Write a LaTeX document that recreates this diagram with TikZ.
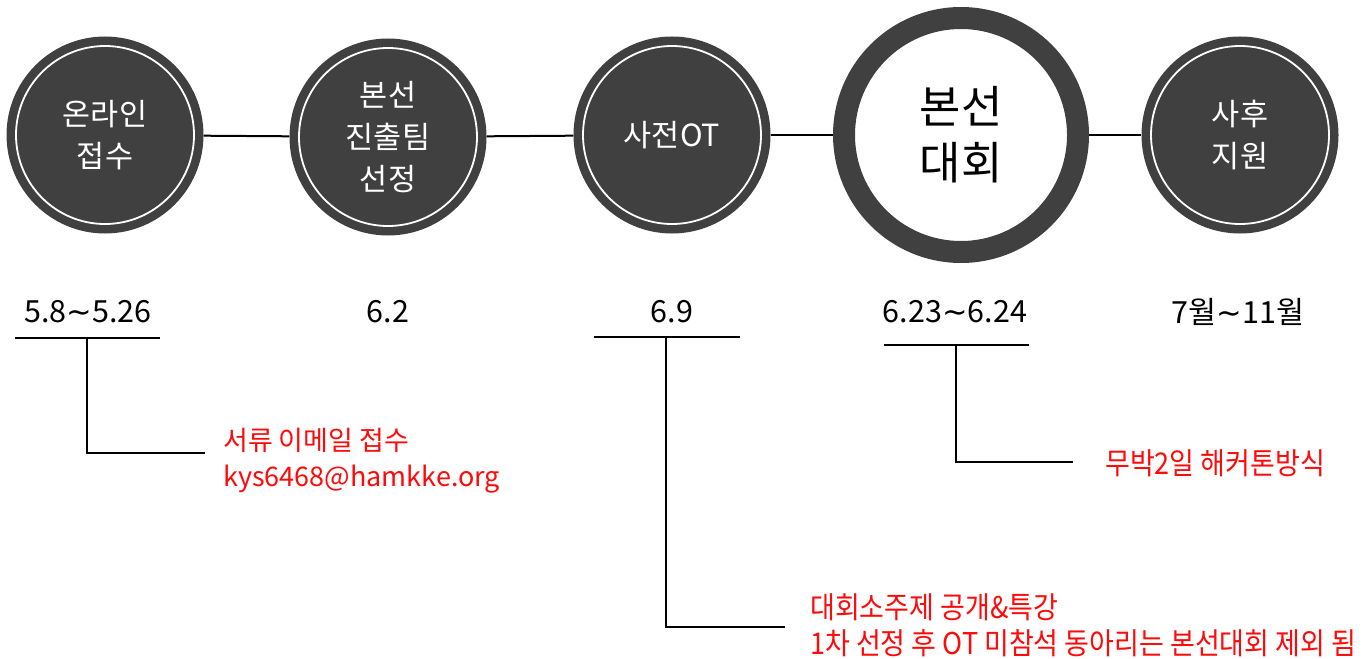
\documentclass[tikz,border=0pt]{standalone}
\usepackage{fontspec}
\setmainfont{Noto Sans CJK KR}
\newfontfamily\cond[FakeStretch=0.9]{Noto Sans CJK KR}
\newfontfamily\dvs{DejaVu Sans}
\newcommand{\wtilde}{{\dvs\char"223C}}
\definecolor{stagegray}{HTML}{404040}
\definecolor{notered}{HTML}{FF0A0A}
\begin{document}
\begin{tikzpicture}[x=1pt,y=-1pt,
  stage/.style={circle,fill=stagegray,minimum size=197pt,inner sep=0pt,text=white,align=center,font=\fontsize{30.5}{42}\selectfont},
  bigstage/.style={circle,fill=white,draw=stagegray,line width=22pt,minimum size=234pt,inner sep=0pt,text=black,align=center,font=\fontsize{45}{56}\selectfont},
  ring/.style={draw=white,line width=1.8pt},
  link/.style={draw=black,line width=2pt},
  datetxt/.style={font=\fontsize{30.5}{36}\selectfont,inner sep=0pt},
  note/.style={text=notered,anchor=west,align=left,inner sep=0pt,font=\fontsize{27}{36}\selectfont},
  condnote/.style={text=notered,anchor=west,align=left,inner sep=0pt,font=\cond\fontsize{30}{36}\selectfont}
]
\useasboundingbox (0,0) rectangle (1364,658);
% stages
\node[stage] (s1) at (105,135) {온라인\\접수};
\node[stage] (s2) at (388,137) {본선\\진출팀\\선정};
\node[stage] (s3) at (672,135) {사전OT};
\node[bigstage] (s4) at (961,135) {본선\\대회};
\node[stage] (s5) at (1240,135) {사후\\지원};
\foreach \s in {s1,s2,s3,s5} \draw[ring] (\s.center) circle (89);
% timeline connectors
\draw[link] (s1) -- (s2);
\draw[link] (s2) -- (s3);
\draw[link] (s3) -- (s4);
\draw[link] (s4) -- (s5);
% dates
\node[datetxt] (d1) at (88,312) {5.8\wtilde 5.26};
\node[datetxt] (d2) at (388,312) {6.2};
\node[datetxt] (d3) at (672,312) {6.9};
\node[datetxt] (d4) at (955,312) {6.23\wtilde 6.24};
\node[datetxt] (d5) at (1238,312) {7월\wtilde 11월};
% bracket 1
\coordinate (u1l) at (15,338);
\coordinate (u1r) at (160,338);
\coordinate (u1m) at (87,338);
\coordinate (b1) at (87,453);
\coordinate (e1) at (205,453);
\draw[link] (u1l) -- (u1r);
\draw[link] (u1m) -- (b1) -- (e1);
\node[note] (n1) at (223,461) {서류 이메일 접수\\kys6468@hamkke.org};
% bracket 3
\coordinate (u3l) at (594,337);
\coordinate (u3r) at (740,337);
\coordinate (u3m) at (666,337);
\coordinate (b3) at (666,627);
\coordinate (e3) at (785,627);
\draw[link] (u3l) -- (u3r);
\draw[link] (u3m) -- (b3) -- (e3);
\node[condnote] (n3) at (810,625) {대회소주제 공개\&특강\\1차 선정 후 OT 미참석 동아리는 본선대회 제외 됨};
% bracket 4
\coordinate (u4l) at (884,345);
\coordinate (u4r) at (1029,345);
\coordinate (u4m) at (956,345);
\coordinate (b4) at (956,462);
\coordinate (e4) at (1073,462);
\draw[link] (u4l) -- (u4r);
\draw[link] (u4m) -- (b4) -- (e4);
\node[condnote] (n4) at (1105,463) {무박2일 해커톤방식};
\end{tikzpicture}
\end{document}
